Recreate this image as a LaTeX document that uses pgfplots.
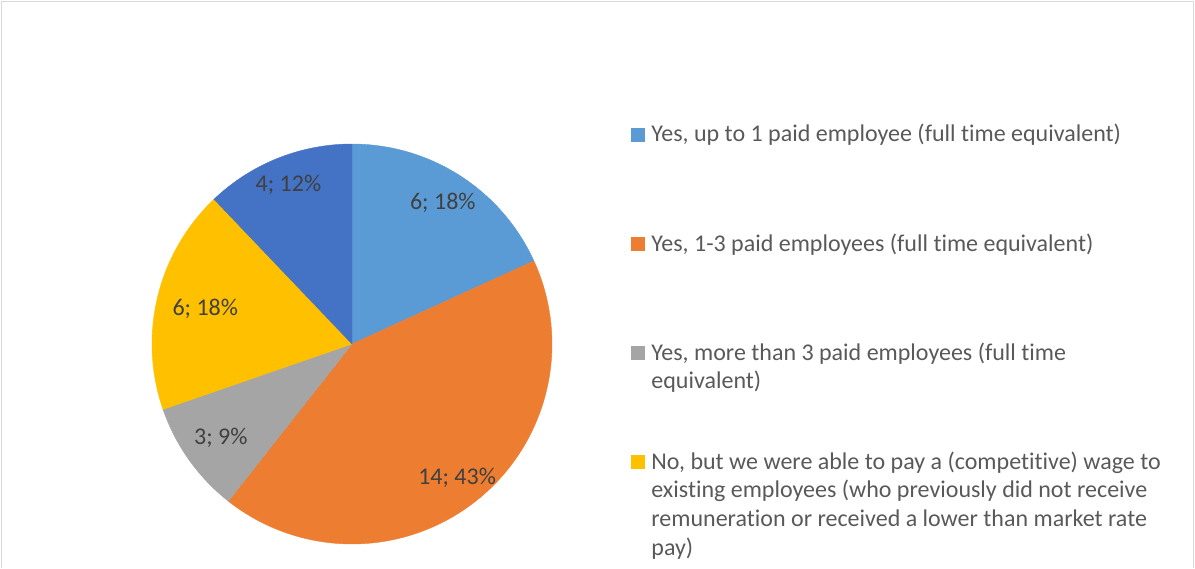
\documentclass[border=0pt]{standalone}
\usepackage{pgfplots}
\pgfplotsset{compat=1.18}
\usepackage{pgfplotstable}
\usepackage{fontspec}
\setmainfont{Carlito}[Ligatures=NoCommon]

\definecolor{s0}{HTML}{5B9BD5}
\definecolor{s1}{HTML}{ED7D31}
\definecolor{s2}{HTML}{A5A5A5}
\definecolor{s3}{HTML}{FFC000}
\definecolor{s4}{HTML}{4472C4}
\definecolor{lbl}{HTML}{404040}
\definecolor{legtxt}{HTML}{595959}
\definecolor{frame}{HTML}{D9D9D9}

% count, shown percentage, label distance (fraction of radius)
\pgfplotstableread{
n  pct lr
6  18  0.84
14 43  0.85
3  9   0.805
6  18  0.755
4  12  0.855
}\piedata

% geometry in px of the 1195x568 canvas (1px = 0.5pt)
\def\cx{352}\def\cy{224}\def\r{200}
\newcommand\chartfont{\fontsize{12}{14.35}\selectfont}

\pgfplotstablegetrowsof{\piedata}
\pgfmathtruncatemacro\last{\pgfplotsretval-1}
\def\total{0}
\pgfplotsforeachungrouped \i in {0,...,\last}{%
  \pgfplotstablegetelem{\i}{n}\of\piedata
  \pgfmathsetmacro\total{\total+\pgfplotsretval}}

\newcommand\legentry[4]{% color, square top, square bottom, text
  \fill[#1] (axis cs:631,#2) rectangle (axis cs:645,#3);
  \node[anchor=base west, inner sep=0pt, text=legtxt, font=\chartfont] at (axis cs:651,#3) {\vtop{#4}};
}

\begin{document}
\begin{tikzpicture}
\begin{axis}[
    width=597.5pt, height=284pt, scale only axis,
    xmin=0, xmax=1195, ymin=0, ymax=568,
    ticks=none, axis line style={draw=none},
    clip=false,
]
\def\start{90}
\pgfplotsforeachungrouped \i in {0,...,\last}{%
  \pgfplotstablegetelem{\i}{n}\of\piedata \let\v\pgfplotsretval
  \pgfplotstablegetelem{\i}{pct}\of\piedata \let\p\pgfplotsretval
  \pgfplotstablegetelem{\i}{lr}\of\piedata \let\f\pgfplotsretval
  \pgfmathsetmacro\stop{\start-360*\v/\total}
  \pgfmathsetmacro\mid{(\start+\stop)/2}
  \pgfmathsetmacro\lx{\cx+\f*\r*cos(\mid)}
  \pgfmathsetmacro\ly{\cy+\f*\r*sin(\mid)}
  \edef\cmd{%
    \noexpand\addplot[fill=s\i, draw=s\i, line width=0.2pt, domain=\stop:\start, samples=120]
      ({\cx+\r*cos(x)},{\cy+\r*sin(x)}) -- (axis cs:\cx,\cy) -- cycle;
    \noexpand\node[text=lbl, font=\noexpand\chartfont] at (axis cs:\lx,\ly) {\v; \p\noexpand\%};
  }%
  \cmd
  \let\start\stop
}

% chart frame (bottom edge is cut off in the original)
\draw[frame, line width=0.8pt] (axis cs:1.5,0) -- (axis cs:1.5,566.5) -- (axis cs:1193.5,566.5) -- (axis cs:1193.5,0);

\legentry{s0}{440}{426}{\hbox{Yes, up to 1 paid employee (full time equivalent)}}
\legentry{s1}{331}{317}{\hbox{Yes, 1-3 paid employees (full time equivalent)}}
\legentry{s2}{222}{208}{\hbox{Yes, more than 3 paid employees (full time}\hbox{equivalent)}}
\legentry{s3}{113}{99}{\hbox{No, but we were able to pay a (competitive) wage to}\hbox{existing employees (who previously did not receive}\hbox{remuneration or received a lower than market rate}\hbox{pay)}}
\end{axis}
\end{tikzpicture}
\end{document}
